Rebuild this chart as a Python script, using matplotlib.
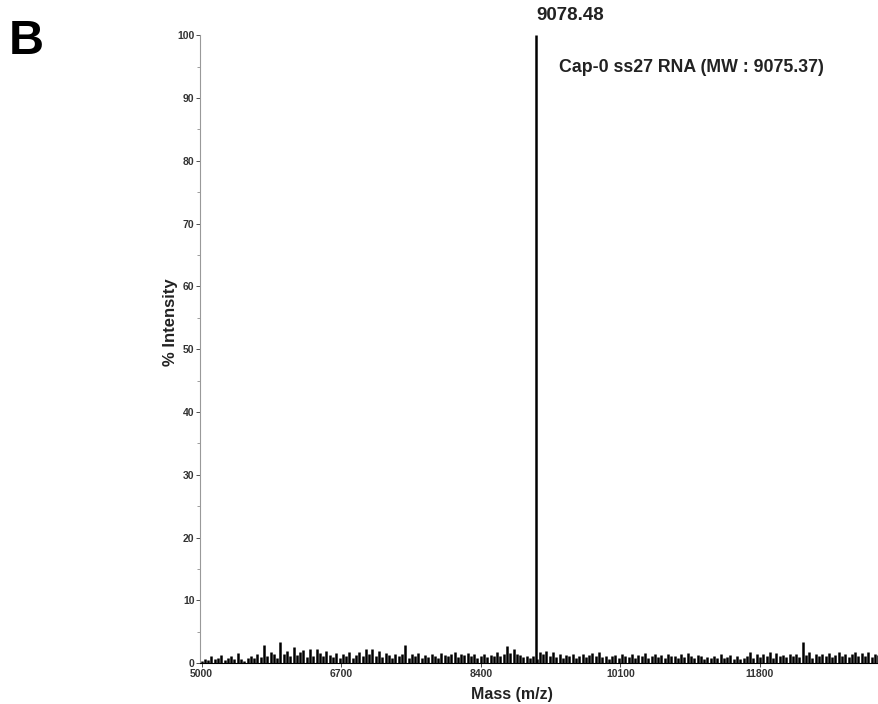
import numpy as np
import matplotlib.pyplot as plt

plt.rcParams['font.family'] = ['Liberation Sans', 'DejaVu Sans']

# noise level (% intensity), one value every 40 Da starting at 5000
noise_start = 5000
noise_step = 40
noise = [
    0.4, 0.7, 0.5, 1.1, 0.6, 0.9, 1.3, 0.5, 0.8, 1.2, 0.6, 1.6, 0.7, 0.4, 0.9, 1.1, 0.8, 1.4, 1.0, 2.9,
    1.2, 1.8, 1.5, 0.9, 3.3, 1.4, 2.0, 1.1, 2.5, 1.3, 1.7, 2.1, 1.0, 2.3, 1.2, 2.2, 1.6, 1.1, 1.9, 1.3,
    1.0, 1.6, 0.9, 1.4, 1.2, 1.8, 0.8, 1.3, 1.7, 1.1, 2.2, 1.5, 2.3, 1.2, 1.9, 1.0, 1.6, 1.3, 0.9, 1.4,
    1.1, 1.5, 2.9, 0.9, 1.4, 1.2, 1.6, 0.8, 1.3, 1.0, 1.5, 1.2, 0.9, 1.6, 1.3, 1.1, 1.4, 1.7, 1.0, 1.5,
    1.3, 1.6, 1.1, 1.4, 0.9, 1.2, 1.5, 1.0, 1.3, 1.1, 1.7, 1.2, 1.4, 2.8, 1.6, 2.2, 1.5, 1.3, 1.0, 1.2,
    0.8, 1.1, 0.6, 1.8, 1.5, 1.9, 1.2, 1.7, 1.0, 1.4, 0.9, 1.3, 1.1, 1.5, 0.8, 1.2, 1.4, 1.0, 1.3, 1.6,
    1.1, 1.8, 1.0, 1.2, 0.7, 1.1, 1.3, 0.9, 1.4, 1.2, 1.0, 1.5, 0.8, 1.3, 1.1, 1.6, 0.9, 1.2, 1.4, 1.0,
    1.3, 0.9, 1.5, 1.1, 1.2, 0.8, 1.4, 1.0, 1.6, 1.2, 0.9, 1.3, 1.1, 0.7, 1.0, 0.8, 1.2, 0.9, 1.4, 0.8,
    1.0, 1.3, 0.7, 1.1, 0.6, 0.9, 1.2, 1.8, 0.8, 1.4, 1.0, 1.5, 1.2, 1.7, 0.9, 1.6, 1.1, 1.3, 1.0, 1.4,
    1.2, 1.5, 1.0, 3.3, 1.3, 1.7, 0.9, 1.5, 1.2, 1.4, 1.1, 1.6, 1.0, 1.3, 1.7, 1.2, 1.5, 1.0, 1.4, 1.8,
    1.1, 1.6, 1.2, 1.7, 1.0, 1.5, 1.3, 1.8,
]
peak_mass = 9078.48
peak_height = 100
xticks = [5000, 6700, 8400, 10100, 11800]

masses = noise_start + noise_step * np.arange(len(noise))

fig = plt.figure(figsize=(8.79, 7.04), dpi=100)
ax = fig.add_axes([0.2275, 0.058, 0.7725, 0.892])

ax.vlines(masses, 0, noise, color='black', lw=1.8)
ax.vlines([peak_mass], 0, [peak_height], color='black', lw=1.8)

ax.set_xlim(4980, 13250)
ax.set_ylim(0, 100)
ax.set_xticks(xticks)
ax.set_yticks(range(0, 101, 10))
ax.set_yticks(range(5, 100, 10), minor=True)
ax.tick_params(axis='both', labelsize=7.5, colors='#333333', length=3, width=0.6, pad=1)
ax.tick_params(axis='y', which='minor', length=2, width=0.5, colors='#777777')
for lab in ax.get_xticklabels() + ax.get_yticklabels():
    lab.set_fontweight('bold')

for s in ['top', 'right']:
    ax.spines[s].set_visible(False)
ax.spines['left'].set_color('#999999')
ax.spines['left'].set_linewidth(0.8)
ax.spines['bottom'].set_color('black')
ax.spines['bottom'].set_linewidth(0.8)

fig.text(171 / 879, 1 - 322 / 704, '% Intensity', fontsize=12, fontweight='bold',
         color='#222222', rotation=90, ha='center', va='center')
fig.text(512 / 879, 1 - 694 / 704, 'Mass (m/z)', fontsize=11.5, fontweight='bold',
         color='#222222', ha='center', va='center')

fig.text(536 / 879, 1 - 16 / 704, '9078.48', fontsize=13.5, fontweight='bold',
         color='#222222', ha='left', va='center')
fig.text(559 / 879, 1 - 67 / 704, 'Cap-0 ss27 RNA (MW : 9075.37)', fontsize=12.8,
         fontweight='bold', color='#222222', ha='left', va='center')
fig.text(9 / 879, 1 - 41 / 704, 'B', fontsize=35, fontweight='bold', ha='left', va='center')

fig.savefig('out.png', dpi=100)
